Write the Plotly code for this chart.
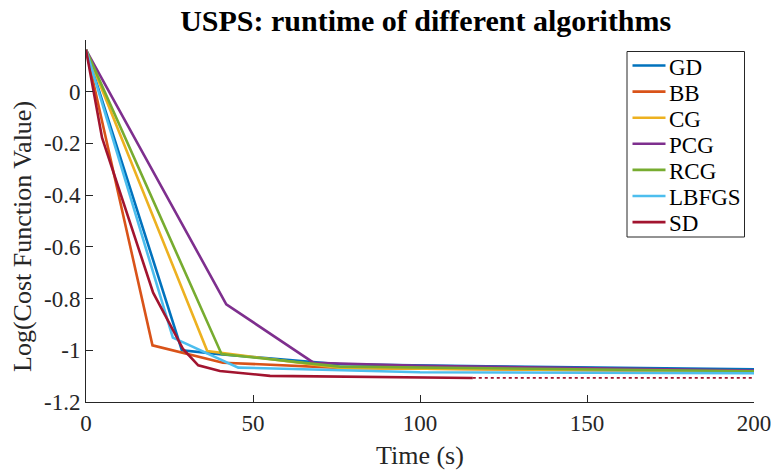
import plotly.graph_objects as go

names = ["GD", "BB", "CG", "PCG", "RCG", "LBFGS", "SD"]
colors = ["#0072BD", "#D95319", "#EDB120", "#7E2F8E", "#77AC30", "#4DBEEE", "#A2142F"]

gd_x = [0, 28.7, 40, 76, 120, 200]
gd_y = [0.162, -1.0, -1.015, -1.054, -1.062, -1.074]
bb_x = [0, 19.9, 41, 76, 200]
bb_y = [0.162, -0.981, -1.048, -1.068, -1.082]
cg_x = [0, 36.3, 76, 200]
cg_y = [0.162, -1.003, -1.068, -1.082]
pcg_x = [0, 42.0, 68.1, 100, 200]
pcg_y = [0.162, -0.822, -1.048, -1.060, -1.078]
rcg_x = [0, 40.6, 76, 200]
rcg_y = [0.162, -1.015, -1.063, -1.081]
lbfgs_x = [0, 26.0, 45.6, 100, 200]
lbfgs_y = [0.162, -0.951, -1.067, -1.085, -1.089]
sd_x = [0, 4.8, 20.1, 29.1, 33.6, 40.1, 55.1, 115.8]
sd_y = [0.162, -0.178, -0.777, -0.996, -1.058, -1.080, -1.099, -1.107]
sd_tail_x = [115.8, 200]
sd_tail_y = [-1.107, -1.107]

x_ticks = [0, 50, 100, 150, 200]
y_ticks = [0, -0.2, -0.4, -0.6, -0.8, -1, -1.2]
y_tick_labels = ["0", "-0.2", "-0.4", "-0.6", "-0.8", "-1", "-1.2"]

series = [(gd_x, gd_y), (bb_x, bb_y), (cg_x, cg_y), (pcg_x, pcg_y),
          (rcg_x, rcg_y), (lbfgs_x, lbfgs_y), (sd_x, sd_y)]

FONT = "Times New Roman, Liberation Serif, Times, serif"
INK = "#262626"
W, H = 774, 470
ML, MR, MT, MB = 86, 20, 40, 68
PW, PH = W - ML - MR, H - MT - MB

def px_x(p):  # pixel -> paper x
    return (p - ML) / PW

def px_y(p):  # pixel -> paper y
    return (H - MB - p) / PH

fig = go.Figure()
for name, col, (xs, ys) in zip(names, colors, series):
    fig.add_trace(go.Scatter(x=xs, y=ys, mode="lines", name=name, showlegend=False,
                             line=dict(color=col, width=2.6)))
fig.add_trace(go.Scatter(x=sd_tail_x, y=sd_tail_y, mode="lines", showlegend=False,
                         line=dict(color=colors[6], width=1.8, dash="dot")))

axis_common = dict(showline=True, linecolor=INK, linewidth=1, ticks="inside",
                   ticklen=7, tickcolor=INK, showgrid=False, zeroline=False,
                   automargin=False,
                   tickfont=dict(family=FONT, size=23, color=INK), mirror=False)

shapes = []
annotations = []
# legend box
shapes.append(dict(type="rect", xref="paper", yref="paper",
                   x0=px_x(627), x1=px_x(744.5), y0=px_y(237), y1=px_y(51.5),
                   line=dict(color=INK, width=1), fillcolor="white", layer="above"))
for i, (name, col) in enumerate(zip(names, colors)):
    yy = 65.5 + 26.1 * i
    shapes.append(dict(type="line", xref="paper", yref="paper",
                       x0=px_x(632.5), x1=px_x(665.5), y0=px_y(yy), y1=px_y(yy),
                       line=dict(color=col, width=2.6), layer="above"))
    annotations.append(dict(text=name, xref="paper", yref="paper", x=px_x(667),
                            y=px_y(yy + 1.5), xanchor="left", yanchor="middle",
                            showarrow=False, font=dict(family=FONT, size=23, color="black")))
# axis titles
annotations.append(dict(text="Time (s)", xref="paper", yref="paper", x=0.5, y=px_y(455),
                        xanchor="center", yanchor="middle", showarrow=False,
                        font=dict(family=FONT, size=26, color=INK)))
annotations.append(dict(text="Log(Cost Function Value)", xref="paper", yref="paper",
                        x=px_x(22), y=px_y(237), xanchor="center", yanchor="middle",
                        textangle=-90, showarrow=False,
                        font=dict(family=FONT, size=26, color=INK)))

fig.update_layout(
    width=W, height=H,
    margin=dict(l=ML, r=MR, t=MT, b=MB),
    paper_bgcolor="white", plot_bgcolor="white",
    title=dict(text="<b>USPS: runtime of different algorithms</b>",
               font=dict(family=FONT, size=30, color="black"),
               x=0.55, xanchor="center", yref="container", y=1 - 20 / H, yanchor="middle"),
    xaxis=dict(range=[0, 200], tickvals=x_ticks, **axis_common),
    yaxis=dict(range=[-1.2, 0.2], tickvals=y_ticks, ticktext=y_tick_labels, **axis_common),
    shapes=shapes, annotations=annotations,
    showlegend=False,
)

fig.write_html("out.html")
